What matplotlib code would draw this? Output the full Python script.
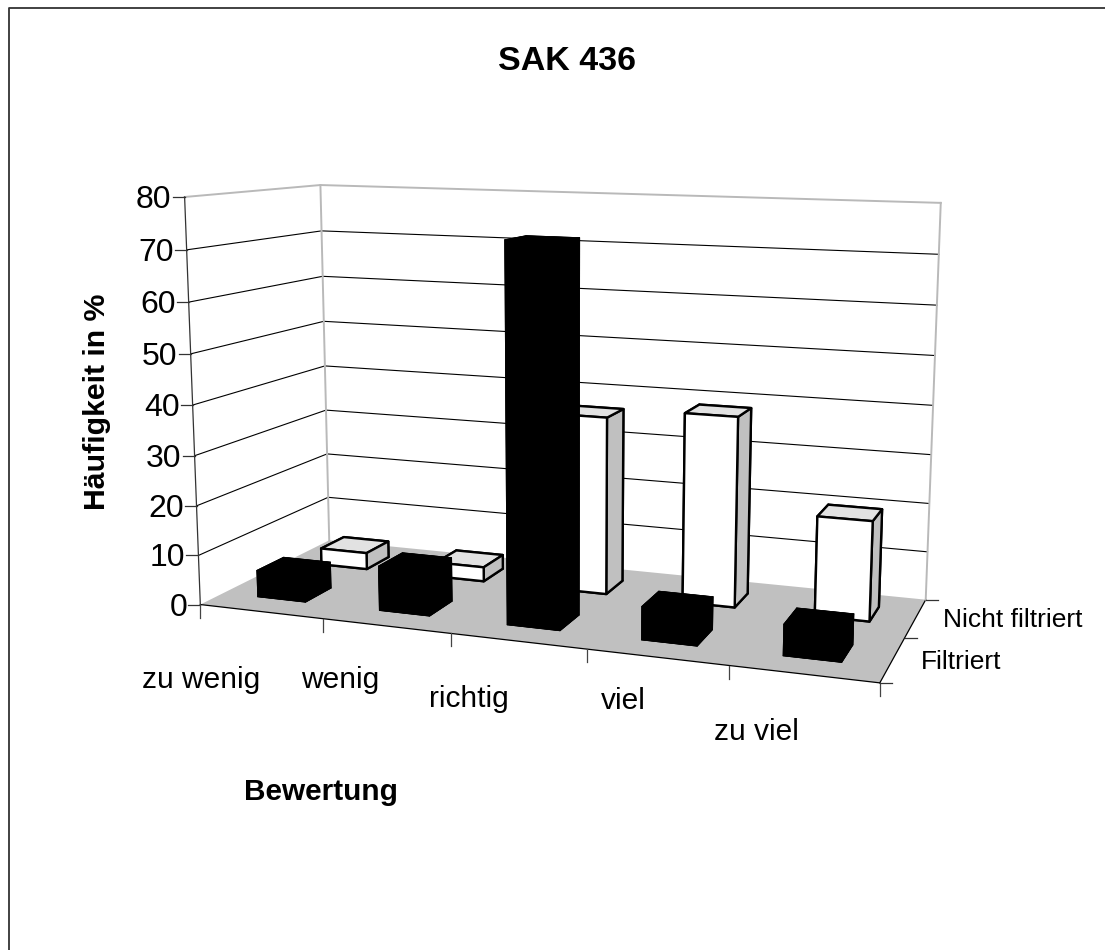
import numpy as np
import matplotlib
matplotlib.use("Agg")
import matplotlib.pyplot as plt
from mpl_toolkits.mplot3d import Axes3D  # noqa
from mpl_toolkits.mplot3d.art3d import Poly3DCollection

categories = ["zu wenig", "wenig", "richtig", "viel", "zu viel"]
series = ["Filtriert", "Nicht filtriert"]
filtriert = [5.5, 9, 73.5, 6.5, 6]
nicht_filtriert = [3.5, 3, 36.5, 38.5, 20]
value_ticks = [0, 10, 20, 30, 40, 50, 60, 70, 80]

W, H = 1105, 950
plt.rcParams["font.family"] = ["Liberation Sans", "DejaVu Sans"]
nx, ny, zmax = len(categories), len(series), max(value_ticks)

# Camera: homography fitted to points of the plot box (x, depth, value -> pixel)
box = np.array([[0, 0, 0], [1, 0, 0], [0, 1, 0], [1, 1, 0], [0, 0, 1], [0, 1, 1], [1, 1, 1],
                [.2, 0, 0], [.4, 0, 0], [.6, 0, 0], [.8, 0, 0], [1, .5, 0]], float)
pix = np.array([[202, 605], [881, 682], [330, 541], [925, 598], [186, 196], [319, 184], [941, 205],
                [322, 620], [450, 633], [584, 649], [728, 666], [907, 638]], float)
rows, rhs = [], []
for (a, b, c), (u, v) in zip(box, pix):
    rows.append([a, b, c, 1, 0, 0, 0, 0, -u*a, -u*b, -u*c]); rhs.append(u)
    rows.append([0, 0, 0, 0, a, b, c, 1, -v*a, -v*b, -v*c]); rhs.append(v)
p = np.linalg.lstsq(np.array(rows), np.array(rhs), rcond=None)[0]
P = np.array([p[:4], p[4:8], [*p[8:11], 1.0]])
S = np.diag([1 / nx, 1 / ny, 1 / zmax, 1.0])


def project(x, y, z):
    q = P @ S @ np.array([x, y, z, 1.0])
    return q[0] / q[2], q[1] / q[2]


fig = plt.figure(figsize=(W / 100, H / 100), dpi=100, facecolor="white")
ax = fig.add_axes([0, 0, 1, 1], projection="3d", computed_zorder=False)
ax.set_axis_off()
ax.patch.set_alpha(0)
ax.apply_aspect = lambda position=None: None


def get_proj():
    vx0, vx1 = ax.viewLim.intervalx
    vy0, vy1 = ax.viewLim.intervaly
    to_view = np.array([[(vx1 - vx0) / W, 0, vx0],
                        [0, -(vy1 - vy0) / H, vy1],
                        [0, 0, 1]])
    top = to_view @ P
    # depth row: far = large; right and upper faces count as nearer
    depth = np.array([-0.02, 0.1, -0.02, -0.5])
    return np.array([top[0], top[1], depth, top[2]]) @ S


ax.get_proj = get_proj

GREY = "#b9b9b9"
floor = [[(0, 0, 0), (nx, 0, 0), (nx, ny, 0), (0, ny, 0)]]
ax.add_collection3d(Poly3DCollection(floor, facecolors="#c0c0c0", edgecolors="none", zorder=1))
ax.plot([0, nx], [0, 0], [0, 0], color="black", lw=0.9, zorder=2)
ax.plot([nx, nx], [0, ny], [0, 0], color="black", lw=0.9, zorder=2)

for v in value_ticks[1:]:
    c, lw = (GREY, 1.4) if v == zmax else ("black", 0.8)
    ax.plot([0, 0, nx], [0, ny, ny], [v, v, v], color=c, lw=lw, zorder=2)
ax.plot([0, 0], [ny, ny], [0, zmax], color=GREY, lw=1.4, zorder=2)
ax.plot([nx, nx], [ny, ny], [0, zmax], color=GREY, lw=1.4, zorder=2)
ax.plot([0, 0], [0, 0], [0, zmax], color="#333333", lw=0.9, zorder=2)

for s, (vals, bx, bw, y0, bd, face, ec, lw, zo) in enumerate([
        (nicht_filtriert, 0.30, 0.40, 1.30, 0.39,
         ["white", "#e2e2e2", "white", "white", "#c0c0c0", "#c0c0c0"], "black", 1.7, 3),
        (filtriert, 0.29, 0.40, 0.32, 0.40, ["black"] * 6, "black", 0.5, 20)]):
    for i, v in enumerate(vals):
        art = ax.bar3d(i + bx, y0, 0, bw, bd, v, color=face, shade=False,
                       edgecolor=ec, linewidth=lw)
        art.set_zorder(zo + i)

# overlay: frame, ticks, text
ov = fig.add_axes([0, 0, 1, 1], facecolor="none")
ov.set_xlim(0, W)
ov.set_ylim(H, 0)
ov.axis("off")
ov.plot([8.5, 8.5, W], [H, 8, 8], color="#333333", lw=1.3)

for v in value_ticks:
    x, y = project(0, 0, v)
    ov.plot([x - 12, x], [y, y], color="#333333", lw=0.9)
    ov.text(x - 13, y + 3, str(v), ha="right", va="center", fontsize=23)
for i in range(nx + 1):
    x, y = project(i, 0, 0)
    ov.plot([x, x], [y, y + 13], color="#444444", lw=0.9)
for j in range(ny + 1):
    x, y = project(nx, j, 0)
    ov.plot([x, x + 12], [y, y], color="#333333", lw=0.9)

cat_xy = [(201, 680), (340, 680), (469, 699), (623, 701), (756, 732)]
for name, (x, y) in zip(categories, cat_xy):
    ov.text(x, y, name, ha="center", va="center", fontsize=21.5)
for name, (x, y) in zip(series, [(921, 662), (943, 620)]):
    ov.text(x, y, name, ha="left", va="center", fontsize=19)

ov.text(567, 62, "SAK 436", ha="center", va="center", fontsize=24.5, fontweight="bold")
ov.text(321, 792, "Bewertung", ha="center", va="center", fontsize=21.4, fontweight="bold")
ov.text(97, 402, "Häufigkeit in %", ha="center", va="center", rotation=90, fontsize=21.8, fontweight="bold")

fig.savefig("out.png", dpi=100)
